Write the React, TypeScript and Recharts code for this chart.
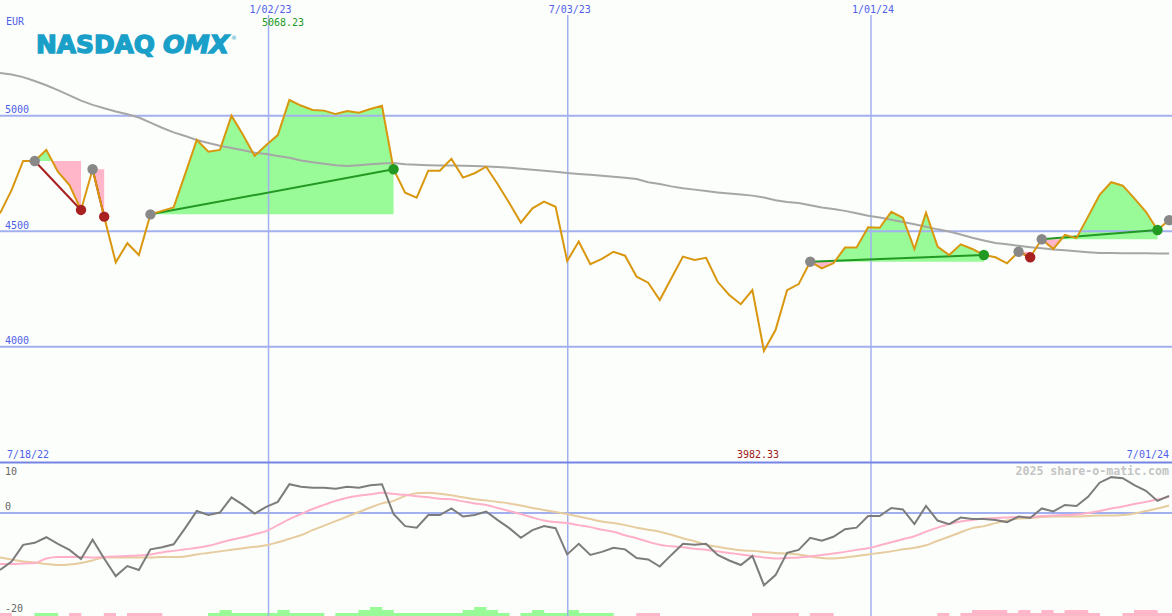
import React from 'react'
import { ComposedChart, Line, Area, Bar, XAxis, YAxis, ReferenceLine } from 'recharts'

const W = 1172
const H = 616
const DX = 11.575 // px per weekly point

// weekly closes, first point Fri 7/22/22
const price = [
  4577, 4678, 4804, 4804, 4852, 4758, 4700, 4592, 4768, 4563,
  4365, 4448, 4397, 4573, 4588, 4603, 4748, 4895, 4844, 4852,
  5000, 4916, 4826, 4873, 4916, 5068, 5044, 5025, 5022, 5007,
  5020, 5013, 5029, 5043, 4768, 4667, 4645, 4762, 4762, 4813,
  4732, 4751, 4779, 4703, 4622, 4537, 4599, 4628, 4606, 4371,
  4455, 4357, 4380, 4411, 4394, 4303, 4277, 4202, 4296, 4390,
  4375, 4385, 4281, 4224, 4184, 4245, 3982, 4072, 4245, 4271,
  4368, 4339, 4361, 4429, 4429, 4517, 4515, 4584, 4558, 4423,
  4580, 4433, 4397, 4443, 4423, 4397, 4387, 4361, 4411, 4387,
  4465, 4423, 4484, 4470, 4563, 4657, 4712, 4697, 4642, 4584,
  4505, 4548,
]

// long moving average (gray)
const avg = [
  5185, 5178, 5167, 5150, 5132, 5111, 5088, 5065, 5047, 5032,
  5018, 5006, 4992, 4970, 4948, 4928, 4912, 4895, 4882, 4870,
  4860, 4850, 4840, 4834, 4826, 4818, 4806, 4798, 4792, 4786,
  4782, 4786, 4790, 4793, 4795, 4790, 4788, 4786, 4784, 4784,
  4783, 4782, 4780, 4778, 4775, 4770, 4766, 4762, 4757, 4752,
  4748, 4744, 4740, 4736, 4731, 4726, 4712, 4704, 4694, 4686,
  4680, 4674, 4668, 4663, 4659, 4654, 4646, 4634, 4626, 4622,
  4612, 4603, 4596, 4588, 4578, 4567, 4559, 4550, 4540, 4530,
  4519, 4508, 4499, 4486, 4472, 4460, 4449, 4443, 4437, 4431,
  4426, 4421, 4418, 4413, 4409, 4406, 4406, 4405, 4405, 4405,
  4404, 4404,
]

// lower panel: momentum (dark gray) and its two signal lines
const momentum = [
  -11.3, -9.6, -6.3, -5.9, -4.8, -6.1, -7.3, -9.1, -5.3, -9.0,
  -12.5, -10.5, -11.3, -7.2, -6.8, -6.2, -3.0, 0.4, -0.4, 0.1,
  3.1, 1.6, -0.1, 1.2, 2.2, 5.7, 5.2, 5.0, 5.0, 4.8,
  5.2, 5.0, 5.5, 5.7, -0.2, -2.6, -2.9, -0.4, -0.4, 0.9,
  -0.7, -0.4, 0.3, -1.4, -3.0, -4.9, -3.4, -2.6, -3.0, -8.2,
  -6.1, -8.3, -7.7, -6.9, -7.2, -8.9, -9.2, -10.6, -8.3, -6.1,
  -6.3, -6.1, -8.3, -9.4, -10.3, -8.5, -14.3, -12.3, -7.9, -7.3,
  -4.9, -5.5, -4.7, -3.2, -2.9, -0.6, -0.6, 1.0, 0.7, -2.2,
  1.4, -1.5, -2.2, -0.9, -1.2, -1.2, -1.4, -1.8, -0.7, -1.0,
  0.9, 0.3, 1.6, 1.4, 3.2, 6.0, 7.1, 6.9, 5.5, 4.4,
  2.4, 3.4,
]

const fastSig = [
  -10.1, -10.1, -10.0, -9.9, -9.0, -8.7, -8.7, -8.7, -8.8, -8.7,
  -8.6, -8.5, -8.4, -8.2, -7.8, -7.5, -7.2, -6.9, -6.5, -5.9,
  -5.3, -4.8, -4.2, -3.6, -2.4, -1.2, -0.2, 0.8, 1.6, 2.4,
  3.0, 3.4, 3.7, 4.0, 3.8, 3.6, 3.3, 3.1, 2.8, 2.7,
  2.3, 1.9, 1.6, 1.0, 0.4, -0.2, -0.9, -1.5, -1.8, -2.0,
  -2.4, -2.8, -3.3, -3.7, -4.4, -5.0, -5.7, -6.3, -6.6, -6.8,
  -7.1, -7.3, -7.6, -7.9, -8.2, -8.5, -8.8, -9.0, -8.9, -8.8,
  -8.6, -8.3, -8.0, -7.7, -7.3, -7.0, -6.4, -5.8, -5.2, -4.6,
  -3.7, -2.9, -2.2, -1.7, -1.4, -1.1, -1.0, -0.9, -0.8, -0.8,
  -0.6, -0.5, -0.4, -0.3, 0.0, 0.4, 0.9, 1.3, 1.8, 2.2,
  2.7, 3.2,
]

const slowSig = [
  -8.8, -9.2, -9.6, -9.8, -10.1, -10.3, -10.2, -9.9, -9.4, -8.8,
  -8.8, -8.8, -8.8, -8.8, -8.7, -8.7, -8.6, -8.2, -7.9, -7.6,
  -7.3, -7.0, -6.7, -6.4, -5.8, -5.1, -4.4, -3.4, -2.5, -1.6,
  -0.7, 0.2, 1.1, 1.9, 2.4, 3.4, 3.9, 4.0, 3.8, 3.5,
  3.1, 2.7, 2.5, 2.2, 1.9, 1.5, 1.0, 0.6, 0.2, -0.2,
  -0.7, -1.2, -1.7, -2.0, -2.4, -2.9, -3.3, -3.7, -4.3, -5.0,
  -5.6, -6.3, -6.7, -7.1, -7.4, -7.5, -7.7, -7.9, -8.0, -8.2,
  -8.6, -8.9, -9.0, -8.8, -8.5, -8.2, -7.9, -7.6, -7.2, -6.9,
  -6.4, -5.5, -4.7, -3.8, -3.0, -2.6, -2.0, -1.5, -1.1, -1.0,
  -0.8, -0.7, -0.7, -0.7, -0.6, -0.5, -0.5, -0.4, -0.1, 0.4,
  0.9, 1.5,
]

// bottom strip, + green / - pink, in steps
const hist = [
  -1, 0, 0, 1, 1, 0, -1, 0, 0, -1,
  0, -1, -1, -1, 0, 0, 0, 0, 1, 2,
  1, 1, 1, 1, 2, 1, 1, 1, 0, 1,
  1, 2, 3, 2, 1, 1, 1, 1, 1, 1,
  2, 3, 2, 1, 0, 1, 2, 1, 1, 2,
  1, 1, 1, 0, 0, -1, -1, 0, 0, 0,
  0, 0, 0, 0, 0, -1, -1, -1, -1, 0,
  -1, -1, 0, 0, 0, 0, 0, 0, 0, 0,
  0, -1, 0, -1, -2, -2, -2, -1, -2, -1,
  -2, -1, -2, -2, -1, 0, 0, -1, -2, -2,
  -1, -1,
]

// signal open / close indexes
const trades = [
  { open: 3, close: 7 },
  { open: 8, close: 9 },
  { open: 13, close: 34 },
  { open: 70, close: 85 },
  { open: 88, close: 89 },
  { open: 90, close: 100 },
  { open: 101, close: null as number | null },
]

const dateTicks = [23.2, 49.05, 75.25]
const dateLabels = ['1/02/23', '7/03/23', '1/01/24']
const priceTicks = [4000, 4500, 5000]

const GRID = '#a3b0f0'
const BLUE_TXT = '#4f5fe8'
const GAIN = '#98fb98'
const LOSS = '#ffb6c8'
const GREEN = '#229922'
const RED = '#a82020'
const GRAY = '#888888'
const LOGO = '#1aa0c8'
const MONO = '"DejaVu Sans Mono", monospace'

// scales: 5000 at y=115.7, 0.231 px/pt; osc 0 at y=513, 5.05 px/unit
const P_TOP = 5000 + 115.7 / 0.231
const P_BOT = 5000 - (H - 115.7) / 0.231
const O_TOP = 513 / 5.05
const O_BOT = -(H - 513) / 5.05

const rows: any[] = price.map((p, i) => ({
  i,
  price: p,
  avg: avg[i],
  mom: momentum[i],
  fast: fastSig[i],
  slow: slowSig[i],
  up: hist[i] > 0 ? hist[i] : 0,
  dn: hist[i] < 0 ? -hist[i] : 0,
}))
const extra: any[] = []
trades.forEach((t, k) => {
  rows[t.open].mk = GRAY
  if (t.close == null) return
  const base = price[t.open]
  const win = price[t.close] > base
  for (let j = t.open; j <= t.close; j++) {
    rows[j]['g' + k] = [base, Math.max(price[j], base)]
    rows[j]['r' + k] = [Math.min(price[j], base), base]
    if (j < t.close && (price[j] - base) * (price[j + 1] - base) < 0) {
      const f = (base - price[j]) / (price[j + 1] - price[j])
      extra.push({ i: j + f, ['g' + k]: [base, base], ['r' + k]: [base, base] })
    }
  }
  rows[t.open]['t' + k] = base
  rows[t.close]['t' + k] = price[t.close]
  rows[t.close].mk = win ? GREEN : RED
})
const data = [...rows, ...extra].sort((a, b) => a.i - b.i)
const closed = trades
  .map((t, k) => ({ ...t, k }))
  .filter(t => t.close != null)

const HText = ({ viewBox, text, dy, color }: any) => {
  if (!viewBox) return null
  return (
    <text x={5} y={viewBox.y + dy} fill={color} fontSize={10} fontFamily={MONO}>{text}</text>
  )
}

const VText = ({ viewBox, text }: any) => {
  if (!viewBox) return null
  return (
    <g>
      <rect x={viewBox.x - 3} y={0} width={6} height={15} fill="#fcfefc" />
      <text x={viewBox.x + 2} y={12.5} fill={BLUE_TXT} fontSize={10} fontFamily={MONO} textAnchor="middle">{text}</text>
    </g>
  )
}

// one week wide block, centred where the library puts the bar
const WeekBar = (p: any) => {
  if (!p.height || p.height <= 0) return <g />
  const cx = p.x + p.width / 2
  return <rect x={cx - DX / 2 - 0.3} y={p.y} width={DX + 0.6} height={p.height} fill={p.fill} />
}

const Marker = (p: any) => {
  if (!p.payload?.mk || p.cy == null) return <g key={p.index} />
  return <circle key={p.index} cx={p.cx} cy={p.cy} r={5.2} fill={p.payload.mk} />
}

export default function App() {
  return (
    <div style={{ position: 'absolute', left: 0, top: 0, width: W, height: H, background: '#fcfefc', overflow: 'hidden' }}>
      <ComposedChart width={W} height={H} data={data} margin={{ top: 0, right: 0, bottom: 0, left: 0 }}>
        <XAxis xAxisId="x" dataKey="i" type="number" domain={[0, W / DX]} hide allowDataOverflow />
        <XAxis xAxisId="h" dataKey="i" type="number" domain={[-0.5, W / DX - 0.5]} hide allowDataOverflow />
        <YAxis yAxisId="p" type="number" domain={[P_BOT, P_TOP]} hide allowDataOverflow />
        <YAxis yAxisId="o" type="number" domain={[O_BOT, O_TOP]} hide allowDataOverflow />
        <YAxis yAxisId="h" type="number" domain={[0, H / 3]} hide allowDataOverflow />

        {priceTicks.map(v => (
          <ReferenceLine key={v} xAxisId="x" yAxisId="p" y={v} stroke={GRID} strokeWidth={2}
            label={<HText text={String(v)} dy={-2.5} color={BLUE_TXT} />} />
        ))}
        <ReferenceLine xAxisId="x" yAxisId="o" y={0} stroke={GRID} strokeWidth={2}
          label={<HText text="0" dy={-3} color="#666" />} />
        <ReferenceLine xAxisId="x" yAxisId="o" y={-20} stroke="none"
          label={<HText text="-20" dy={-2} color="#666" />} />
        {dateTicks.map((t, n) => (
          <ReferenceLine key={t} xAxisId="x" yAxisId="p" x={t} stroke={GRID} strokeWidth={1.5}
            label={<VText text={dateLabels[n]} />} />
        ))}
        <ReferenceLine xAxisId="x" yAxisId="o" y={10} stroke="#7484e4" strokeWidth={2}
          label={<HText text="10" dy={12.5} color="#666" />} />

        <Bar xAxisId="h" yAxisId="h" dataKey="up" stackId="h" fill={GAIN} barSize={12}
          shape={WeekBar} isAnimationActive={false} />
        <Bar xAxisId="h" yAxisId="h" dataKey="dn" stackId="h" fill={LOSS} barSize={12}
          shape={WeekBar} isAnimationActive={false} />

        {closed.map(t => (
          <Area key={'g' + t.k} xAxisId="x" yAxisId="p" dataKey={'g' + t.k} type="linear" stroke="none"
            fill={GAIN} fillOpacity={1} dot={false} activeDot={false} isAnimationActive={false} />
        ))}
        {closed.map(t => (
          <Area key={'r' + t.k} xAxisId="x" yAxisId="p" dataKey={'r' + t.k} type="linear" stroke="none"
            fill={LOSS} fillOpacity={1} dot={false} activeDot={false} isAnimationActive={false} />
        ))}

        <Line xAxisId="x" yAxisId="p" dataKey="avg" type="linear" stroke="#a6a6a6" strokeWidth={2}
          dot={false} activeDot={false} connectNulls isAnimationActive={false} />
        {closed.map(t => (
          <Line key={'t' + t.k} xAxisId="x" yAxisId="p" dataKey={'t' + t.k} type="linear"
            stroke={price[t.close as number] > price[t.open] ? GREEN : RED} strokeWidth={2}
            dot={false} activeDot={false} connectNulls isAnimationActive={false} />
        ))}
        <Line xAxisId="x" yAxisId="p" dataKey="price" type="linear" stroke="#d8970e" strokeWidth={2}
          dot={false} activeDot={false} connectNulls isAnimationActive={false} />

        <Line xAxisId="x" yAxisId="o" dataKey="slow" type="monotone" stroke="#e6cc9e" strokeWidth={2}
          dot={false} activeDot={false} connectNulls isAnimationActive={false} />
        <Line xAxisId="x" yAxisId="o" dataKey="fast" type="monotone" stroke="#ffb0c8" strokeWidth={2}
          dot={false} activeDot={false} connectNulls isAnimationActive={false} />
        <Line xAxisId="x" yAxisId="o" dataKey="mom" type="linear" stroke="#7c7c7c" strokeWidth={2}
          dot={false} activeDot={false} connectNulls isAnimationActive={false} />

        <Line xAxisId="x" yAxisId="p" dataKey={(r: any) => (r.mk ? r.price : null)} name="signals"
          type="linear" stroke="none" dot={Marker} activeDot={false} isAnimationActive={false} />
      </ComposedChart>

      <svg width={W} height={H} style={{ position: 'absolute', left: 0, top: 0, pointerEvents: 'none' }}>
        <text x={6} y={25} fill={BLUE_TXT} fontSize={10} fontFamily={MONO}>EUR</text>
        <text x={262} y={25.5} fill={GREEN} fontSize={10} fontFamily={MONO}>5068.23</text>
        <text x={36} y={53} fill={LOGO} stroke={LOGO} strokeWidth={1.4} fontSize={25} fontWeight="bold"
          fontFamily="DejaVu Sans" textLength={119} lengthAdjust="spacingAndGlyphs">NASDAQ</text>
        <text x={163} y={53} fill={LOGO} stroke={LOGO} strokeWidth={1.4} fontSize={25} fontWeight="bold"
          fontStyle="italic" fontFamily="DejaVu Sans" textLength={66} lengthAdjust="spacingAndGlyphs">OMX</text>
        <text x={231} y={40} fill={LOGO} fontSize={6} fontFamily="DejaVu Sans">®</text>
        <text x={7} y={458} fill={BLUE_TXT} fontSize={10} fontFamily={MONO}>7/18/22</text>
        <text x={737} y={458} fill="#a01818" fontSize={10} fontFamily={MONO}>3982.33</text>
        <text x={1169} y={458} fill={BLUE_TXT} fontSize={10} fontFamily={MONO} textAnchor="end">7/01/24</text>
        <text x={1169} y={475} fill="#c4c4c4" fontSize={11.6} fontWeight="bold" fontFamily={MONO} textAnchor="end">2025 share-o-matic.com</text>
      </svg>
    </div>
  )
}
